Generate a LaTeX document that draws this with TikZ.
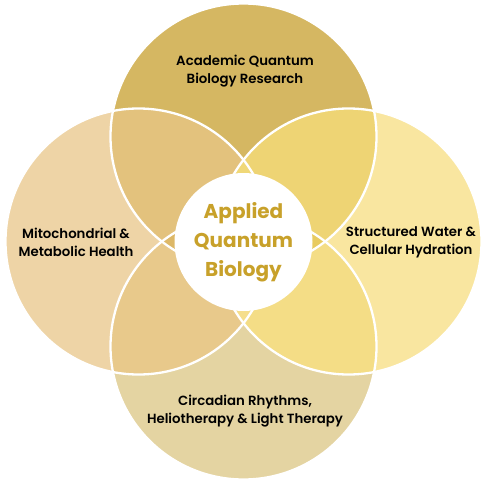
\documentclass[tikz,border=0pt]{standalone}
\usepackage{fontspec}
\newfontfamily\labfont{Poppins SemiBold}
\newfontfamily\ctrfont{Poppins Bold}
\definecolor{cT}{HTML}{D5B762}
\definecolor{cL}{HTML}{EED4A6}
\definecolor{cR}{HTML}{F9E6A0}
\definecolor{cB}{HTML}{E4D4A2}
\definecolor{cTL}{HTML}{E3C27D}
\definecolor{cTR}{HTML}{EED474}
\definecolor{cBL}{HTML}{E8C98B}
\definecolor{cBR}{HTML}{F4DD86}
\definecolor{cTLR}{HTML}{F0D878}
\definecolor{cLTB}{HTML}{DDB867}
\definecolor{cRTB}{HTML}{E8CB60}
\definecolor{cBLR}{HTML}{F5DE8C}
\definecolor{cText}{HTML}{C8A12A}
\tikzset{
  lab/.style={align=center, text=black, font=\labfont\fontsize{13.3}{18}\selectfont, inner sep=0pt},
  ctr/.style={align=center, text=cText, font=\ctrfont\fontsize{20}{29}\selectfont, inner sep=0pt},
  ring/.style={draw=white, line width=2.3pt},
}
\begin{document}
\begin{tikzpicture}[x=1pt,y=-1pt]
\useasboundingbox (0,0) rectangle (484,484);
\def\R{133pt}
\coordinate (O) at (243.5,242);
\coordinate (T) at (243.5,136.5);
\coordinate (L) at (138.5,241.5);
\coordinate (Rc) at (348.5,241.5);
\coordinate (B) at (243.5,346.5);
% base circles
\fill[cT] (T) circle[radius=\R];
\fill[cL] (L) circle[radius=\R];
\fill[cR] (Rc) circle[radius=\R];
\fill[cB] (B) circle[radius=\R];
% lenses
\begin{scope}\clip (T) circle[radius=\R]; \fill[cTL] (L) circle[radius=\R]; \end{scope}
\begin{scope}\clip (T) circle[radius=\R]; \fill[cTR] (Rc) circle[radius=\R]; \end{scope}
\begin{scope}\clip (B) circle[radius=\R]; \fill[cBL] (L) circle[radius=\R]; \end{scope}
\begin{scope}\clip (B) circle[radius=\R]; \fill[cBR] (Rc) circle[radius=\R]; \end{scope}
% triples
\begin{scope}\clip (T) circle[radius=\R]; \clip (L) circle[radius=\R]; \fill[cTLR] (Rc) circle[radius=\R]; \end{scope}
\begin{scope}\clip (T) circle[radius=\R]; \clip (B) circle[radius=\R]; \fill[cLTB] (L) circle[radius=\R]; \end{scope}
\begin{scope}\clip (T) circle[radius=\R]; \clip (B) circle[radius=\R]; \fill[cRTB] (Rc) circle[radius=\R]; \end{scope}
\begin{scope}\clip (B) circle[radius=\R]; \clip (L) circle[radius=\R]; \fill[cBLR] (Rc) circle[radius=\R]; \end{scope}
% outlines
\draw[ring] (T) circle[radius=\R];
\draw[ring] (L) circle[radius=\R];
\draw[ring] (Rc) circle[radius=\R];
\draw[ring] (B) circle[radius=\R];
% center
\fill[white] (O) circle[radius=69pt];
\node[ctr] (center) at (O) {Applied\\Quantum\\Biology};
\node[lab] (top) at (245,71) {Academic Quantum\\Biology Research};
\node[lab] (left) at (76,242) {Mitochondrial \&\\Metabolic Health};
\node[lab] (right) at (411,242) {Structured Water \&\\Cellular Hydration};
\node[lab] (bottom) at (245,411) {Circadian Rhythms,\\Heliotherapy \& Light Therapy};
\end{tikzpicture}
\end{document}
